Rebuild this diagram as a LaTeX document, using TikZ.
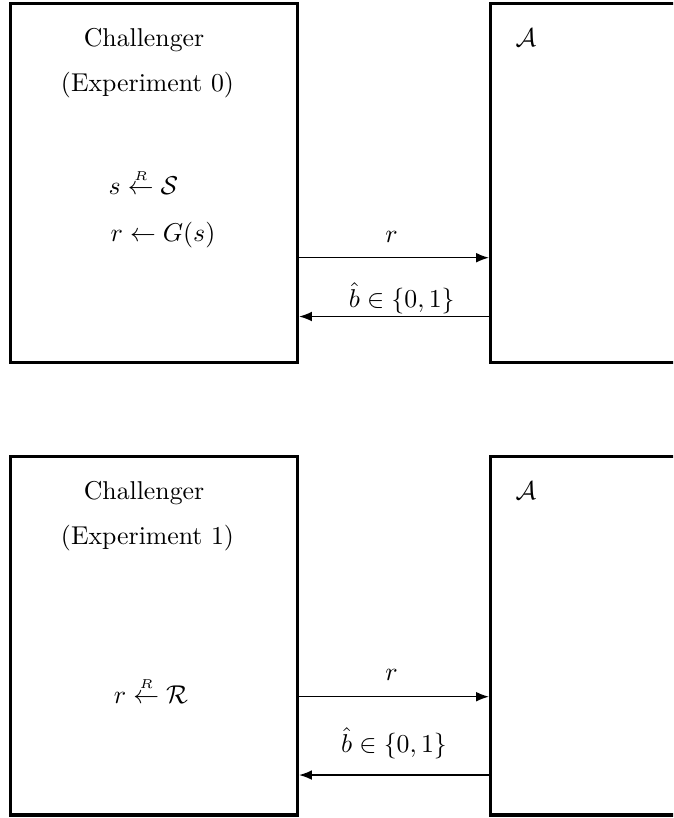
\documentclass[tikz,border=0pt]{standalone}
\usetikzlibrary{arrows.meta}
\begin{document}
\begin{tikzpicture}[
    party/.style={draw, line width=1.2pt, inner sep=0pt},
    txt/.style={inner sep=0pt, anchor=base},
    txtl/.style={inner sep=0pt, anchor=base west},
    arr/.style={-{Latex[length=5pt,width=3.8pt]}, line width=0.6pt},
    lbl/.style={inner sep=0pt},
]
\clip (0,0) rectangle (9.178,-11.155);

% experiment 0
\node[party, minimum width=3.914cm, minimum height=4.901cm] (chal0) at (2.100,-2.4955) {};
\node[party, minimum width=2.911cm, minimum height=4.901cm] (adv0)  at (8.1445,-2.4955) {};

\node[txt]  (title0) at (1.964,-0.637) {Challenger};
\node[txt]  (exp0)   at (2.011,-1.251) {(Experiment 0)};
\node[txtl] (seed0)  at (1.473,-2.659) {$s \stackrel{\scriptscriptstyle R}{\leftarrow} \mathcal{S}$};
\node[txtl] (prg0)   at (1.500,-3.296) {$r \leftarrow G(s)$};
\node[txtl] (name0)  at (7.023,-0.637) {$\mathcal{A}$};

\draw[arr] ([yshift=-1.019cm]chal0.east) -- node[lbl, above=5.6pt, xshift=-1pt] {$r$} ([yshift=-1.019cm]adv0.west);
\draw[arr] ([yshift=-1.821cm]adv0.west) -- node[lbl, above=0.6pt, xshift=3pt] {$\hat{b} \in \{0,1\}$} ([yshift=-1.821cm]chal0.east);

% experiment 1
\node[party, minimum width=3.914cm, minimum height=4.886cm] (chal1) at (2.100,-8.671) {};
\node[party, minimum width=2.911cm, minimum height=4.886cm] (adv1)  at (8.1445,-8.671) {};

\node[txt]  (title1) at (1.964,-6.818) {Challenger};
\node[txt]  (exp1)   at (2.011,-7.432) {(Experiment 1)};
\node[txtl] (rand1)  at (1.545,-9.591) {$r \stackrel{\scriptscriptstyle R}{\leftarrow} \mathcal{R}$};
\node[txtl] (name1)  at (7.023,-6.818) {$\mathcal{A}$};

\draw[arr] ([yshift=-0.830cm]chal1.east) -- node[lbl, above=5.8pt, xshift=-1pt] {$r$} ([yshift=-0.830cm]adv1.west);
\draw[arr] ([yshift=-1.898cm]adv1.west) -- node[lbl, above=6pt] {$\hat{b} \in \{0,1\}$} ([yshift=-1.898cm]chal1.east);
\end{tikzpicture}
\end{document}
